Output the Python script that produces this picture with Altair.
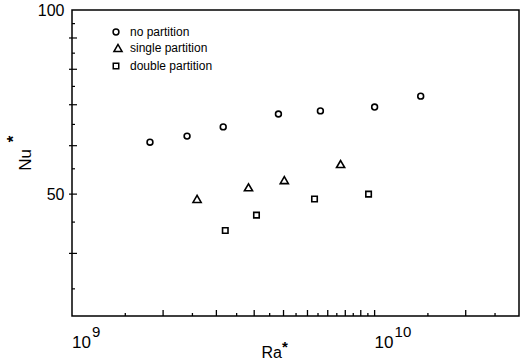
import math
import altair as alt
import pandas as pd

# Nusselt number vs. Rayleigh number for three enclosure configurations
ra_none = [1.81e9, 2.40e9, 3.16e9, 4.81e9, 6.62e9, 1.00e10, 1.42e10]
nu_none = [60.8, 62.2, 64.4, 67.6, 68.4, 69.4, 72.3]
ra_single = [2.59e9, 3.83e9, 5.03e9, 7.72e9]
nu_single = [49.1, 51.3, 52.7, 56.0]
ra_double = [3.21e9, 4.07e9, 6.33e9, 9.55e9]
nu_double = [43.6, 46.2, 49.1, 50.0]

series = ["no partition", "single partition", "double partition"]
shapes = ["circle", "triangle-up", "square"]
sizes = [34, 66, 30]

x_ticks = [m * 10 ** e for e in (9, 10) for m in (1.5, 2, 2.5, 3, 3.5, 4, 4.5, 5, 5.5, 6, 6.5,
                                               7, 7.5, 8, 8.5, 9, 9.5)]
x_ticks = [v for v in x_ticks if v < 3e10] + [1e10]
y_ticks = [35, 40, 45, 50, 55, 60, 65, 70, 75, 80, 85, 90, 95]
x_label_pos = [1e9, 1e10]
x_label_exp = ["9", "10"]

W, H = 447, 306
FONT = "Liberation Sans"

xscale = alt.Scale(type="log", domain=[1e9, 3e10], nice=False)
yscale = alt.Scale(type="log", domain=[31.6, 100], nice=False)


def is_major(v):
    mant = v / 10 ** math.floor(math.log10(v) + 1e-9)
    return abs(mant - round(mant)) < 1e-6


layers = []
# one layer of open symbols per series
for name, shp, sz, xs, ys in zip(series, shapes, sizes,
                                 [ra_none, ra_single, ra_double],
                                 [nu_none, nu_single, nu_double]):
    d = pd.DataFrame({"ra": xs, "nu": ys, "series": name})
    layers.append(
        alt.Chart(d).mark_point(shape=shp, size=sz, filled=False, color="black",
                                strokeWidth=1.6, opacity=1).encode(
            x=alt.X("ra:Q", scale=xscale, axis=None),
            y=alt.Y("nu:Q", scale=yscale,
                    axis=alt.Axis(values=[50, 100], ticks=False, domain=False, grid=False,
                                  labelFontSize=16, labelFont=FONT, labelPadding=8,
                                  labelColor="black", title=None)),
        )
    )

# inward ticks along the bottom axis
xt = pd.DataFrame({"v": x_ticks, "major": [is_major(v) for v in x_ticks]})
layers.append(alt.Chart(xt[xt["major"]]).mark_rule(color="black", strokeWidth=1.3).encode(
    x=alt.X("v:Q", scale=xscale), y=alt.value(H), y2=alt.value(H - 6)))
layers.append(alt.Chart(xt[~xt["major"]]).mark_rule(color="black", strokeWidth=1.3).encode(
    x=alt.X("v:Q", scale=xscale), y=alt.value(H), y2=alt.value(H - 3)))

# ticks along the left axis
yt = pd.DataFrame({"v": y_ticks, "major": [v % 10 == 0 for v in y_ticks]})
layers.append(alt.Chart(yt[yt["major"]]).mark_rule(color="black", strokeWidth=1.2).encode(
    y=alt.Y("v:Q", scale=yscale), x=alt.value(-3), x2=alt.value(5)))
layers.append(alt.Chart(yt[~yt["major"]]).mark_rule(color="black", strokeWidth=1.2).encode(
    y=alt.Y("v:Q", scale=yscale), x=alt.value(0), x2=alt.value(3)))

# x tick labels written as powers of ten
xl = pd.DataFrame({"v": x_label_pos, "exp": x_label_exp})
layers.append(alt.Chart(xl).mark_text(text="10", align="left", baseline="alphabetic",
                                      fontSize=17, font=FONT, color="black").encode(
    x=alt.X("v:Q", scale=xscale), y=alt.value(H + 32)))
layers.append(alt.Chart(xl).mark_text(align="left", baseline="alphabetic", fontSize=15,
                                      font=FONT, color="black", dx=20).encode(
    x=alt.X("v:Q", scale=xscale), y=alt.value(H + 21), text="exp:N"))

# axis titles
titles = pd.DataFrame({"t": ["Nu", "*", "Ra", "*"]})
layers.append(alt.Chart(titles.iloc[[0]]).mark_text(fontSize=17, font=FONT, angle=270,
                                                    color="black").encode(
    x=alt.value(-46), y=alt.value(150), text="t:N"))
layers.append(alt.Chart(titles.iloc[[1]]).mark_text(fontSize=17, font=FONT, fontWeight="bold",
                                                    angle=270, color="black").encode(
    x=alt.value(-58), y=alt.value(129), text="t:N"))
layers.append(alt.Chart(titles.iloc[[2]]).mark_text(fontSize=16, font=FONT, align="right",
                                                    baseline="alphabetic",
                                                    color="black").encode(
    x=alt.value(210), y=alt.value(H + 42), text="t:N"))
layers.append(alt.Chart(titles.iloc[[3]]).mark_text(fontSize=15, font=FONT, fontWeight="bold",
                                                    align="left", baseline="alphabetic",
                                                    color="black").encode(
    x=alt.value(210), y=alt.value(H + 36), text="t:N"))

# legend inside the plot area
leg_y = [22, 38, 56]
leg_x = [44, 46, 44]
for name, shp, sz, lx, ly in zip(series, shapes, sizes, leg_x, leg_y):
    d = pd.DataFrame({"series": [name]})
    layers.append(alt.Chart(d).mark_point(shape=shp, size=sz, filled=False, color="black",
                                          strokeWidth=1.5, opacity=1).encode(
        x=alt.value(lx), y=alt.value(ly)))
    layers.append(alt.Chart(d).mark_text(align="left", baseline="middle", fontSize=12,
                                         font=FONT, color="black").encode(
        x=alt.value(58), y=alt.value(ly), text="series:N"))

chart = alt.layer(*layers).properties(
    width=W, height=H,
    padding={"left": 72, "top": 10, "right": 1, "bottom": 46},
    autosize="none",
    background="white",
).configure_view(stroke="black", strokeWidth=1.5)

chart.save("out.html", embed_options={"renderer": "svg", "actions": False})
